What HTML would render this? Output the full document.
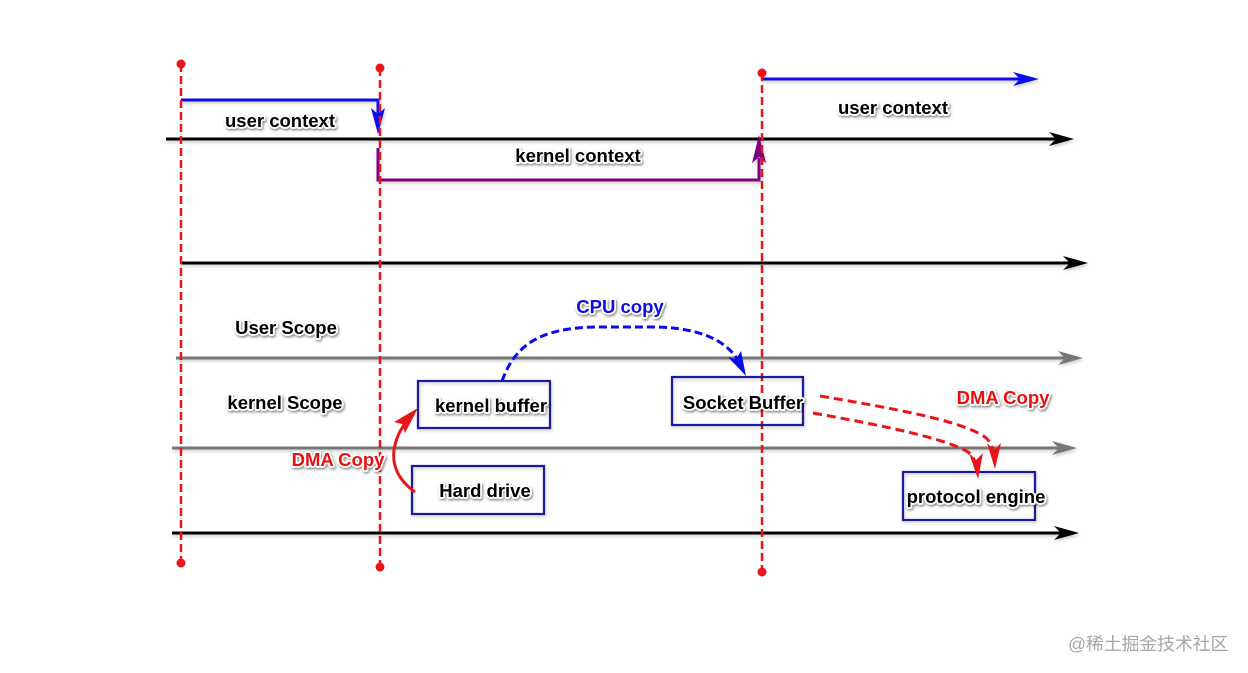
<!DOCTYPE html>
<html><head><meta charset="utf-8"><style>
html,body{margin:0;padding:0;background:#fff;width:1248px;height:673px;overflow:hidden}
svg{display:block}
.t{font-family:"Liberation Sans",Arial,sans-serif;font-weight:bold;font-size:18.5px;stroke:#fff;stroke-width:3.5px;paint-order:stroke;stroke-linejoin:round;filter:url(#sh)}
.wm{font-family:"Liberation Sans","Noto Sans CJK SC",sans-serif;font-size:17.8px;fill:#a5a5a5}
</style></head><body>
<svg width="1248" height="673" viewBox="0 0 1248 673" xmlns="http://www.w3.org/2000/svg">
<defs>
<filter id="sh" x="-20%" y="-40%" width="140%" height="180%">
<feDropShadow dx="1" dy="1.5" stdDeviation="1.2" flood-color="#000" flood-opacity="0.5"/>
</filter>
<filter id="ls" x="-5%" y="-50%" width="110%" height="200%">
<feDropShadow dx="1" dy="2" stdDeviation="1.5" flood-color="#000" flood-opacity="0.2"/>
</filter>
</defs>

<!-- horizontal axes -->
<g filter="url(#ls)">
<line x1="166" y1="139" x2="1060" y2="139" stroke="#000" stroke-width="3"/>
<polygon points="1074,139 1049,132 1056,139 1049,146" fill="#000"/>
<line x1="181" y1="263" x2="1072" y2="263" stroke="#000" stroke-width="3"/>
<polygon points="1088,263 1063,256 1070,263 1063,270" fill="#000"/>
<line x1="176" y1="358" x2="1068" y2="358" stroke="#777" stroke-width="3"/>
<polygon points="1083,358 1058,351 1065,358 1058,365" fill="#777"/>
<line x1="172" y1="448" x2="1062" y2="448" stroke="#777" stroke-width="3"/>
<polygon points="1077,448 1052,441 1059,448 1052,455" fill="#777"/>
<line x1="172" y1="533" x2="1064" y2="533" stroke="#000" stroke-width="3"/>
<polygon points="1079,533 1054,526 1061,533 1054,540" fill="#000"/>
</g>

<!-- blue user context arrows -->
<g filter="url(#ls)">
<polyline points="181,100 378,100 378,115" fill="none" stroke="#0a0af0" stroke-width="3"/>
<polygon points="378,134 371,108 378,114 385,108" fill="#0a0af0"/>
<line x1="762" y1="79" x2="1020" y2="79" stroke="#0a0af0" stroke-width="3"/>
<polygon points="1039,79 1013,72 1020,79 1013,86" fill="#0a0af0"/>
<!-- purple kernel context -->
<polyline points="378,148 378,180 759,180 759,158" fill="none" stroke="#800080" stroke-width="3"/>
<polygon points="759,135 752,163 759,157 766,163" fill="#800080"/>
</g>

<!-- red dashed vertical lines -->
<g stroke="#e8151b" stroke-width="2.5" stroke-dasharray="8,4">
<line x1="181" y1="64" x2="181" y2="563"/>
<line x1="380" y1="68" x2="380" y2="567"/>
<line x1="762" y1="73" x2="762" y2="572"/>
</g>
<g fill="#e8151b">
<circle cx="181" cy="64" r="4.5"/><circle cx="181" cy="563" r="4.5"/>
<circle cx="380" cy="68" r="4.5"/><circle cx="380" cy="567" r="4.5"/>
<circle cx="762" cy="73" r="4.5"/><circle cx="762" cy="572" r="4.5"/>
</g>

<!-- boxes -->
<g fill="none" stroke="#1a1a9a" stroke-width="2.2" filter="url(#ls)">
<rect x="418" y="381" width="132" height="47"/>
<rect x="412" y="466" width="132" height="48"/>
<rect x="672" y="377" width="131" height="48"/>
<rect x="903" y="472" width="132" height="48"/>
</g>

<!-- CPU copy curve -->
<path d="M502,381 C515,345 540,328 595,327 L655,327 C700,328 725,340 738,360" fill="none" stroke="#0a0af0" stroke-width="3" stroke-dasharray="8,4"/>
<polygon points="746,376 728,357 736,359 741,351" fill="#0a0af0"/>

<!-- DMA left curve -->
<path d="M415,492 C398,480 392,465 394,450 C396,438 400,430 405,424" fill="none" stroke="#e8151b" stroke-width="3"/>
<polygon points="418,408 394,422 402,424 405,433" fill="#e8151b"/>

<!-- DMA right curves -->
<path d="M820,396 C890,408 960,420 985,437 C990,441 992,446 993,450" fill="none" stroke="#e8151b" stroke-width="3" stroke-dasharray="9,5"/>
<polygon points="995,469 987,443 994,450 1001,443" fill="#e8151b"/>
<path d="M813,413 C880,425 945,438 968,452 C972,455 974,459 975,462" fill="none" stroke="#e8151b" stroke-width="3" stroke-dasharray="9,5"/>
<polygon points="978,479 969,453 976,460 983,453" fill="#e8151b"/>

<!-- labels -->
<g text-anchor="middle">
<text class="t" x="280" y="127" fill="#000">user context</text>
<text class="t" x="578" y="162" fill="#000">kernel context</text>
<text class="t" x="893" y="114" fill="#000">user context</text>
<text class="t" x="286" y="334" fill="#000">User Scope</text>
<text class="t" x="285" y="409" fill="#000">kernel Scope</text>
<text class="t" x="620" y="313" fill="#1010e8">CPU copy</text>
<text class="t" x="338" y="466" fill="#ee1111">DMA Copy</text>
<text class="t" x="1003" y="404" fill="#ee1111">DMA Copy</text>
<text class="t" x="491" y="412" fill="#000">kernel buffer</text>
<text class="t" x="485" y="497" fill="#000">Hard drive</text>
<text class="t" x="743" y="409" fill="#000">Socket Buffer</text>
<text class="t" x="976" y="503" fill="#000">protocol engine</text>
</g>

<text class="wm" x="1068" y="650">@稀土掘金技术社区</text>
</svg>
</body></html>
